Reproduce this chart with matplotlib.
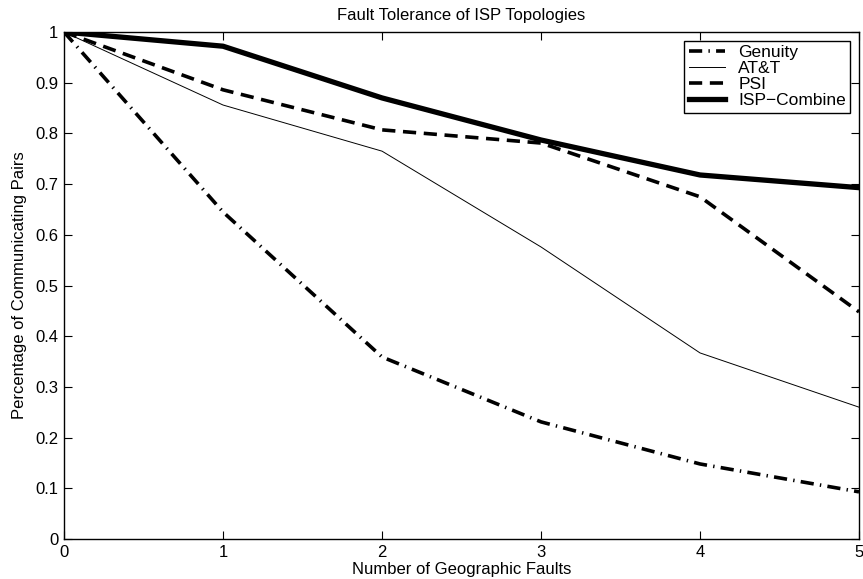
import matplotlib
matplotlib.use('Agg')
import matplotlib.pyplot as plt

plt.rcParams['font.family'] = ['Liberation Sans', 'DejaVu Sans']
plt.rcParams['lines.scale_dashes'] = False

faults = [0, 1, 2, 3, 4, 5]
genuity = [1.0, 0.645, 0.359, 0.231, 0.148, 0.093]
att = [1.0, 0.856, 0.765, 0.576, 0.367, 0.26]
psi = [1.0, 0.886, 0.807, 0.781, 0.675, 0.448]
combine = [1.0, 0.972, 0.870, 0.787, 0.718, 0.693]

fig = plt.figure(figsize=(8.63, 5.79), dpi=100)
ax = fig.add_axes([0.0742, 0.0691, 0.9212, 0.8756])

ax.plot(faults, genuity, color='black', lw=2.6,
        linestyle=(0, (9.5, 4.5, 1.0, 4.5)), label='Genuity')
ax.plot(faults, att, color='black', lw=0.7, label='AT&T')
ax.plot(faults, psi, color='black', lw=2.6,
        linestyle=(0, (9.5, 5.5)), label='PSI')
ax.plot(faults, combine, color='black', lw=3.8, label='ISP\u2212Combine')

ax.set_xlim(0, 5)
ax.set_ylim(0, 1)
ax.set_xticks(faults)
ax.set_yticks([i / 10 for i in range(11)])
ax.set_yticklabels(['0', '0.1', '0.2', '0.3', '0.4', '0.5', '0.6',
                    '0.7', '0.8', '0.9', '1'])
ax.tick_params(direction='in', top=True, right=True, length=6,
               width=0.8, labelsize=12, pad=4)
for s in ax.spines.values():
    s.set_linewidth(1.0)

ax.set_title('Fault Tolerance of ISP Topologies', fontsize=12, pad=9)
ax.set_xlabel('Number of Geographic Faults', fontsize=12, labelpad=2)
ax.set_ylabel('Percentage of Communicating Pairs', fontsize=12, labelpad=6)

leg = ax.legend(loc='upper right', fontsize=12.5, handlelength=2.1,
                borderpad=0.25, labelspacing=0.05, handletextpad=0.75,
                fancybox=False, framealpha=1, borderaxespad=0.5)
leg.get_frame().set_edgecolor('black')
leg.get_frame().set_linewidth(1.0)

fig.savefig('out.png', dpi=100)
